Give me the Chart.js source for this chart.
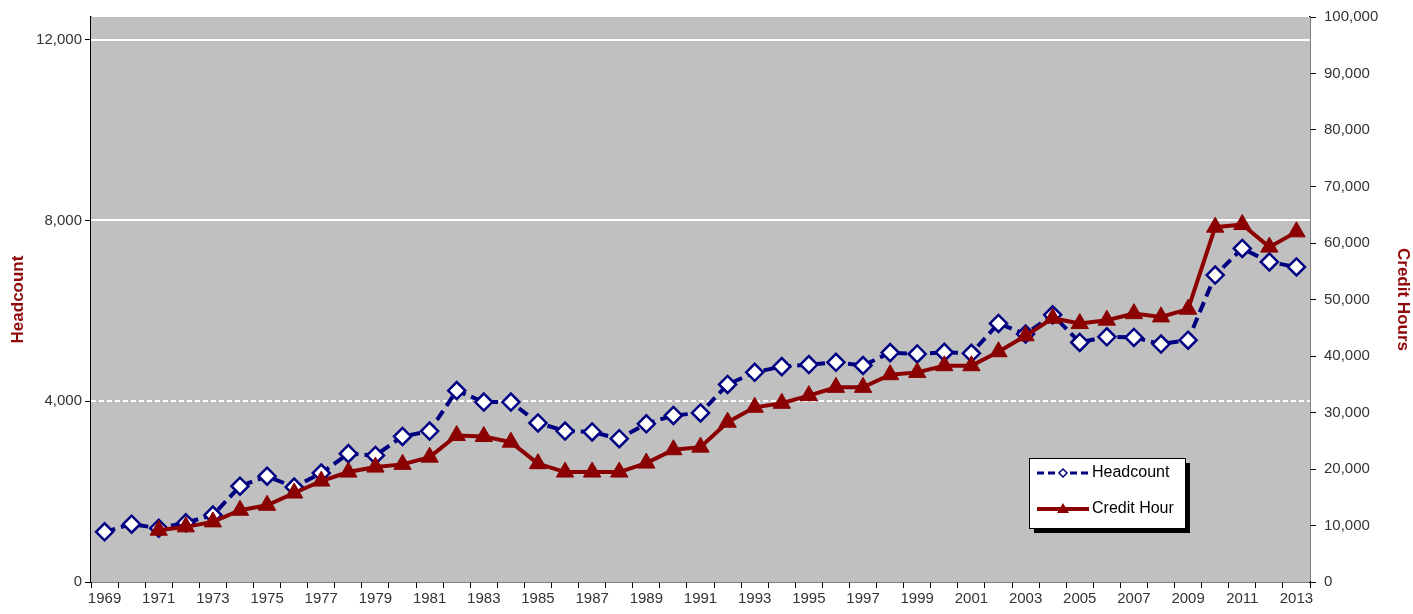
<!DOCTYPE html>
<html>
<head>
    <title>Headcount and Credit Hours</title>
    <script src="https://cdn.jsdelivr.net/npm/chart.js"></script>
    <style>
        body { margin: 0; background: #fff; }
        #wrap { width: 1413px; height: 614px; position: relative; }
    </style>
</head>
<body>
    <div id="wrap"><canvas id="enrollChart"></canvas></div>

    <script>
        // values
        const years = ['1969','1970','1971','1972','1973','1974','1975','1976','1977','1978',
                       '1979','1980','1981','1982','1983','1984','1985','1986','1987','1988',
                       '1989','1990','1991','1992','1993','1994','1995','1996','1997','1998',
                       '1999','2000','2001','2002','2003','2004','2005','2006','2007','2008',
                       '2009','2010','2011','2012','2013'];
        const headcount = [1110,1280,1190,1310,1480,2120,2340,2100,2410,2840,
                           2800,3220,3340,4235,3980,3980,3520,3340,3320,3170,
                           3500,3685,3740,4370,4640,4765,4810,4860,4790,5075,
                           5045,5080,5060,5720,5485,5910,5300,5425,5410,5265,
                           5350,6790,7380,7080,6970];
        const creditHours = [null,null,9170,9760,10640,12700,13580,15750,17870,19460,
                             20340,20820,22100,25930,25750,24750,20940,19460,19460,19460,
                             21050,23410,23870,28280,30920,31630,32990,34450,34450,36690,
                             37100,38280,38280,40750,43570,46690,45740,46340,47500,46920,
                             48280,62800,63270,59270,61970];
        const headcountTicks = [0, 4000, 8000, 12000];

        const navy = '#000080';
        const maroon = '#8b0000';
        const titleRed = '#8e0a0a';

        // gray plot area + white gridlines (dashed at 4,000 like the original)
        const plotBackground = {
            id: 'plotBackground',
            beforeDatasetsDraw(chart) {
                const { ctx, chartArea: a } = chart;
                const y = chart.scales.y;
                ctx.save();
                ctx.fillStyle = '#c0c0c0';
                ctx.fillRect(a.left, a.top, a.right - a.left, a.bottom - a.top);
                ctx.strokeStyle = '#ffffff';
                ctx.lineWidth = 2;
                headcountTicks.forEach(v => {
                    if (v === 0) return;
                    const py = Math.round(y.getPixelForValue(v));
                    ctx.setLineDash(v === 4000 ? [5, 3] : []);
                    ctx.beginPath();
                    ctx.moveTo(a.left, py);
                    ctx.lineTo(a.right, py);
                    ctx.stroke();
                });
                ctx.restore();
            }
        };

        // boxed legend with drop shadow inside the plot
        const boxLegend = {
            id: 'boxLegend',
            afterDraw(chart) {
                const { ctx, chartArea: a } = chart;
                const x = a.right - 281, top = a.top + 441, w = 156, h = 70;
                ctx.save();
                ctx.fillStyle = '#000';
                ctx.fillRect(x + 5, top + 5, w, h);
                ctx.fillStyle = '#fff';
                ctx.fillRect(x, top, w, h);
                ctx.strokeStyle = '#000';
                ctx.lineWidth = 1;
                ctx.strokeRect(x + 0.5, top + 0.5, w, h);

                ctx.font = '16px "Liberation Sans", Arial, sans-serif';
                ctx.fillStyle = '#000';
                ctx.textBaseline = 'middle';

                // headcount sample
                let ly = top + 15;
                ctx.strokeStyle = navy;
                ctx.lineWidth = 3;
                ctx.setLineDash([7, 4]);
                ctx.beginPath(); ctx.moveTo(x + 8, ly); ctx.lineTo(x + 60, ly); ctx.stroke();
                ctx.setLineDash([]);
                ctx.fillStyle = '#fff';
                ctx.lineWidth = 1.5;
                ctx.beginPath();
                ctx.moveTo(x + 34, ly - 4); ctx.lineTo(x + 38, ly); ctx.lineTo(x + 34, ly + 4); ctx.lineTo(x + 30, ly);
                ctx.closePath(); ctx.fill(); ctx.stroke();
                ctx.fillStyle = '#000';
                ctx.fillText(chart.data.datasets[1].label, x + 63, ly);

                // credit hour sample
                ly = top + 51;
                ctx.strokeStyle = maroon;
                ctx.lineWidth = 4;
                ctx.beginPath(); ctx.moveTo(x + 8, ly); ctx.lineTo(x + 60, ly); ctx.stroke();
                ctx.fillStyle = maroon;
                ctx.beginPath();
                ctx.moveTo(x + 34, ly - 6); ctx.lineTo(x + 40, ly + 4); ctx.lineTo(x + 28, ly + 4);
                ctx.closePath(); ctx.fill();
                ctx.fillStyle = '#000';
                ctx.fillText(chart.data.datasets[0].label, x + 63, ly);
                ctx.restore();
            }
        };

        const tickFont = { family: '"Liberation Sans", Arial, sans-serif', size: 15 };
        const titleFont = { family: '"Liberation Sans", Arial, sans-serif', size: 17, weight: 'bold' };

        const ctx = document.getElementById('enrollChart').getContext('2d');
        new Chart(ctx, {
            type: 'line',
            data: {
                labels: years,
                datasets: [{
                    label: 'Credit Hour',
                    data: creditHours,
                    yAxisID: 'y2',
                    order: 0,
                    borderColor: maroon,
                    backgroundColor: maroon,
                    borderWidth: 4,
                    pointStyle: 'triangle',
                    pointRadius: 10,
                    pointBorderWidth: 1,
                    pointBackgroundColor: maroon,
                    pointBorderColor: maroon,
                    tension: 0,
                    fill: false
                }, {
                    label: 'Headcount',
                    data: headcount,
                    yAxisID: 'y',
                    order: 1,
                    borderColor: navy,
                    backgroundColor: '#fff',
                    borderWidth: 4,
                    borderDash: [11, 6],
                    pointStyle: 'rectRot',
                    pointRadius: 8.5,
                    pointBorderWidth: 2.5,
                    pointBackgroundColor: '#fff',
                    pointBorderColor: navy,
                    tension: 0,
                    fill: false
                }]
            },
            options: {
                responsive: true,
                maintainAspectRatio: false,
                animation: false,
                layout: { padding: { top: 11, left: 0, right: 0, bottom: 0 } },
                plugins: {
                    legend: { display: false },
                    tooltip: { enabled: false }
                },
                scales: {
                    x: {
                        type: 'category',
                        offset: true,
                        grid: { offset: true, drawOnChartArea: false, color: '#000', tickLength: 6 },
                        border: { color: '#000', width: 1.5 },
                        ticks: {
                            autoSkip: false,
                            maxRotation: 0,
                            color: '#333',
                            font: tickFont,
                            padding: 2,
                            callback: function (val, i) { return i % 2 === 0 ? this.getLabelForValue(val) : ''; }
                        },
                        afterFit: s => { s.height = 32; }
                    },
                    y: {
                        position: 'left',
                        min: 0,
                        max: 12500,
                        afterBuildTicks: s => { s.ticks = headcountTicks.map(v => ({ value: v })); },
                        grid: { drawOnChartArea: false, color: '#000', tickLength: 6 },
                        border: { color: '#000', width: 1.5 },
                        ticks: {
                            color: '#333',
                            font: tickFont,
                            padding: 3,
                            callback: v => v.toLocaleString('en-US')
                        },
                        title: {
                            display: true,
                            text: 'Headcount',
                            color: titleRed,
                            font: titleFont,
                            padding: { top: 8, bottom: 0 }
                        },
                        afterFit: s => { s.width = 91; }
                    },
                    y2: {
                        position: 'right',
                        min: 0,
                        max: 100000,
                        grid: { drawOnChartArea: false, color: '#000', tickLength: 6 },
                        border: { color: '#000', width: 1.5 },
                        ticks: {
                            stepSize: 10000,
                            color: '#333',
                            font: tickFont,
                            padding: 8,
                            callback: v => v.toLocaleString('en-US')
                        },
                        title: {
                            display: true,
                            text: 'Credit Hours',
                            color: titleRed,
                            font: titleFont,
                            padding: { top: 0, bottom: 12 }
                        },
                        afterFit: s => { s.width = 103; }
                    }
                }
            },
            plugins: [plotBackground, boxLegend]
        });
    </script>
</body>
</html>
